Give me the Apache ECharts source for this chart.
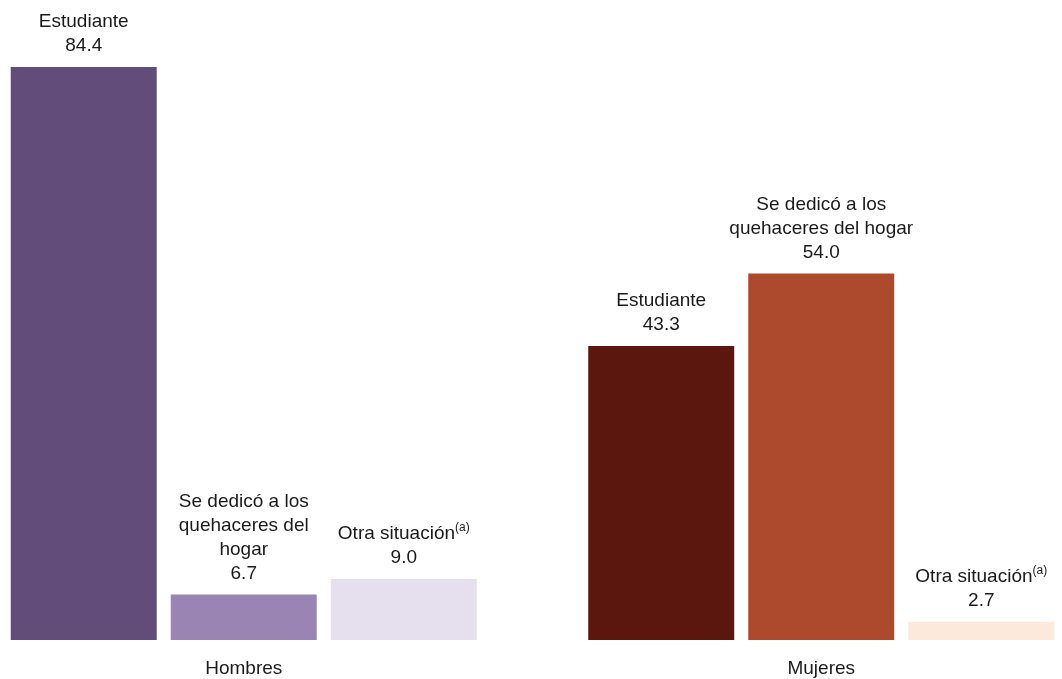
<!DOCTYPE html>
<html>
<head>
<meta charset="utf-8">
<script src="https://cdn.jsdelivr.net/npm/echarts@6/dist/echarts.min.js"></script>
<style>
  html, body { margin: 0; padding: 0; background: #fff; overflow: hidden; width: 1062px; height: 679px; }
  /* el área de trazado sobresale un poco de la ventana, como en el original */
  #chart { position: absolute; left: -45px; top: 0; width: 1155px; height: 679px; }
</style>
</head>
<body>
<div id="chart"></div>
<script>
// datos
const categories = ['Hombres', 'Mujeres'];
const seriesNames = ['Estudiante', 'Se dedicó a los quehaceres del hogar', 'Otra situación'];
const estudiante = [84.4, 43.3];
const quehaceres = [6.7, 54.0];
const otra = [9.0, 2.7];
// texto de etiquetas (el salto de línea cambia según grupo)
const labelEstudiante = ['Estudiante', 'Estudiante'];
const labelQuehaceres = ['Se dedicó a los\nquehaceres del\nhogar', 'Se dedicó a los\nquehaceres del hogar'];
const labelOtra = ['Otra situación{sup|(a)}', 'Otra situación{sup|(a)}'];

const coloresHombres = ['#614c7a', '#9a84b4', '#e6e0ee'];
const coloresMujeres = ['#5b170d', '#ad4a2e', '#fde9db'];

const chart = echarts.init(document.getElementById('chart'));

function mkSerie(idx, values, labels) {
  return {
    name: seriesNames[idx],
    type: 'bar',
    barWidth: 146,
    barGap: '9.6%',
    data: values.map(function (v, i) {
      return {
        value: v,
        itemStyle: { color: i === 0 ? coloresHombres[idx] : coloresMujeres[idx] }
      };
    }),
    label: {
      show: true,
      position: 'top',
      distance: 9,
      color: '#1a1a1a',
      fontFamily: 'Liberation Sans',
      fontSize: 19,
      lineHeight: 24,
      align: 'center',
      formatter: function (p) {
        return labels[p.dataIndex] + '\n' + p.value.toFixed(1);
      },
      rich: {
        sup: {
          fontFamily: 'Liberation Sans',
          fontSize: 12,
          lineHeight: 24,
          verticalAlign: 'top',
          color: '#1a1a1a',
          padding: [0, 0, 7, 0]
        }
      }
    }
  };
}

const optionData = {
  animation: false,
  grid: { left: 0, right: 0, top: 29, bottom: 39 },
  xAxis: {
    type: 'category',
    data: categories,
    axisLine: { show: false },
    axisTick: { show: false },
    axisLabel: {
      color: '#1a1a1a',
      fontFamily: 'Liberation Sans',
      fontSize: 19,
      margin: 19
    }
  },
  yAxis: {
    type: 'value',
    min: 0,
    max: 90,
    show: false,
    splitLine: { show: false }
  },
  series: [
    mkSerie(0, estudiante, labelEstudiante),
    mkSerie(1, quehaceres, labelQuehaceres),
    mkSerie(2, otra, labelOtra)
  ]
};
chart.setOption(optionData);
</script>
</body>
</html>
